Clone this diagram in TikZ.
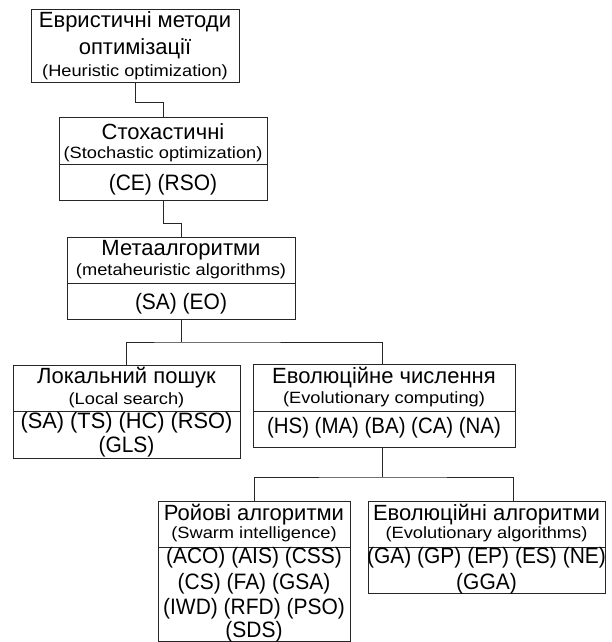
\documentclass[tikz,border=0pt]{standalone}
\usepackage{fontspec}
\setmainfont{Liberation Sans}
\newfontfamily\smallfnt{Liberation Sans}[FakeStretch=1.12]
\newfontfamily\acrfnt{Liberation Sans}[FakeStretch=0.94]
\begin{document}
\begin{tikzpicture}[x=1pt,y=-1pt,
  box/.style={draw=black!85, line width=0.8pt, inner sep=0pt, outer sep=0pt, anchor=north west},
  conn/.style={draw=black!85, line width=0.8pt},
  big/.style={font=\fontsize{22}{22}\selectfont, anchor=base, inner sep=0pt},
  acr/.style={font=\acrfnt\fontsize{22.3}{22}\selectfont, anchor=base, inner sep=0pt},
  sml/.style={font=\smallfnt\fontsize{16.3}{16}\selectfont, anchor=base, inner sep=0pt}]
\useasboundingbox[fill=white] (0,0) rectangle (611,642);

% Box 1
\node[box, minimum width=208pt, minimum height=73pt] (B1) at (31,9) {};
\node[big] (t1a) at (135,28) {Евристичні методи};
\node[big] (t1b) at (135,55) {оптимізації};
\node[sml] (t1c) at (135,77) {(Heuristic optimization)};

% Box 2
\node[box, minimum width=208pt, minimum height=47pt] (B2a) at (59,117) {};
\node[box, minimum width=208pt, minimum height=36pt] (B2b) at (59,164) {};
\node[big] (t2a) at (163,139) {Стохастичні};
\node[sml] (t2b) at (163,158) {(Stochastic optimization)};
\node[acr] (t2c) at (163,190) {(CE) (RSO)};

% Box 3
\node[box, minimum width=228pt, minimum height=46pt] (B3a) at (67,237) {};
\node[box, minimum width=228pt, minimum height=36pt] (B3b) at (67,283) {};
\node[big] (t3a) at (181,255) {Метаалгоритми};
\node[sml] (t3b) at (181,275) {(metaheuristic algorithms)};
\node[acr] (t3c) at (181,309) {(SA) (EO)};

% Box 4
\node[box, minimum width=227pt, minimum height=46pt] (B4a) at (13,365) {};
\node[box, minimum width=227pt, minimum height=47pt] (B4b) at (13,411) {};
\node[big] (t4a) at (126.5,383) {Локальний пошук};
\node[sml] (t4b) at (126.5,404) {(Local search)};
\node[acr] (t4c) at (126.5,428) {\scalebox{1.04}[1]{(SA) (TS) (HC) (RSO)}};
\node[acr] (t4d) at (126.5,452) {(GLS)};

% Box 5
\node[box, minimum width=262pt, minimum height=47pt] (B5a) at (253,364) {};
\node[box, minimum width=262pt, minimum height=36pt] (B5b) at (253,411) {};
\node[big] (t5a) at (384,383) {Еволюційне числення};
\node[sml] (t5b) at (384,403) {(Evolutionary computing)};
\node[acr] (t5c) at (384,433) {\scalebox{0.975}[1]{(HS) (MA) (BA) (CA) (NA)}};

% Box 6
\node[box, minimum width=192pt, minimum height=46pt] (B6a) at (158,501) {};
\node[box, minimum width=192pt, minimum height=94pt] (B6b) at (158,547) {};
\node[big] (t6a) at (254,520) {Ройові алгоритми};
\node[sml] (t6b) at (254,538) {(Swarm intelligence)};
\node[acr] (t6c) at (254,563) {(ACO) (AIS) (CSS)};
\node[acr] (t6d) at (254,589) {(CS) (FA) (GSA)};
\node[acr] (t6e) at (254,614) {(IWD) (RFD) (PSO)};
\node[acr] (t6f) at (254,637) {(SDS)};

% Box 7
\node[box, minimum width=237pt, minimum height=46pt] (B7a) at (368,501) {};
\node[box, minimum width=237pt, minimum height=46pt] (B7b) at (368,547) {};
\node[big] (t7a) at (486.5,520) {Еволюційні алгоритми};
\node[sml] (t7b) at (486.5,538) {(Evolutionary algorithms)};
\node[acr] (t7c) at (486.5,563) {(GA) (GP) (EP) (ES) (NE)};
\node[acr] (t7d) at (486.5,589) {(GGA)};

% junction coordinates
\coordinate (j1) at (135,102);
\coordinate (j2) at (163,223);
\coordinate (j3) at (181,342);
\coordinate (j4) at (382,477);
\coordinate (e3) at (382,364);
\coordinate (e7) at (513,501);

% connectors
\draw[conn] (B1.south) |- (j1) -| (B2a.north);
\draw[conn] (B2b.south) |- (j2) -| (B3a.north);
\draw[conn] (B3b.south) -- (j3);
\draw[conn] (B4a.north) |- (j3) -| (e3);
\draw[conn] (e3 |- B5b.south) -- (j4);
\draw[conn] (B6a.north) |- (j4) -| (e7);
\end{tikzpicture}
\end{document}
